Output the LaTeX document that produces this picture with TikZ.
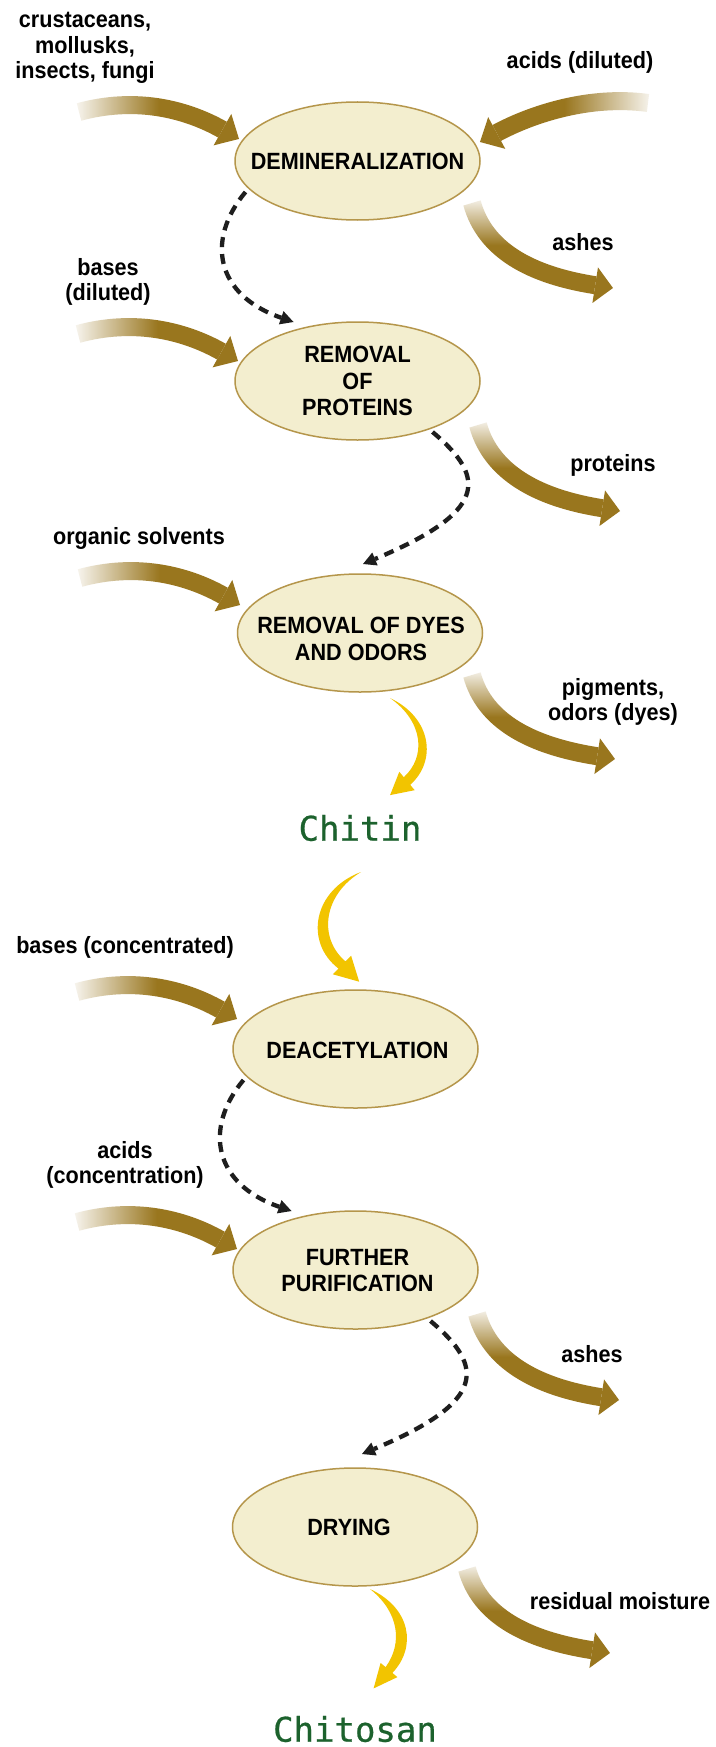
\documentclass[tikz,border=0pt]{standalone}
\usepackage{fontspec}
\setmainfont{Liberation Sans}[FakeStretch=0.92]
\newfontfamily\chfont{DejaVu Sans Mono}[FakeBold=0.6]
\usetikzlibrary{arrows.meta,calc,fadings,shapes.geometric}
\definecolor{brn}{RGB}{153,118,30}
\definecolor{ellfill}{RGB}{243,238,207}
\definecolor{elldraw}{RGB}{181,150,75}
\definecolor{yel}{RGB}{242,196,0}
\definecolor{grn}{RGB}{28,98,45}
\definecolor{dsh}{RGB}{30,30,30}
\tikzfading[name=fadeW, left color=transparent!100, right color=transparent!0, middle color=transparent!0]
\tikzfading[name=fadeE, left color=transparent!0, right color=transparent!100, middle color=transparent!0]
\tikzfading[name=fadeN, top color=transparent!100, bottom color=transparent!0, middle color=transparent!0]
\begin{document}
\begin{tikzpicture}[x=1pt,y=-1pt,
  stage/.style={ellipse, draw=elldraw, fill=ellfill, line width=1.5pt, minimum width=245pt, minimum height=118pt, inner sep=0pt},
  stagetext/.style={align=center, font=\fontsize{23.5}{26.5}\selectfont\bfseries, inner sep=0pt},
  lbl/.style={align=center, font=\fontsize{23.5}{25.5}\selectfont\bfseries, inner sep=0pt},
  prod/.style={font=\fontsize{34}{40}\chfont, text=grn, inner sep=0pt},
  inarrow/.style={draw=brn, line width=18pt, -{Triangle[length=19pt,width=36pt,line width=0pt]}, path fading=fadeW},
  backarrow/.style={draw=brn, line width=18pt, -{Triangle[length=19pt,width=36pt,line width=0pt]}, path fading=fadeE},
  outarrow/.style={draw=brn, line width=18pt, -{Triangle[length=18pt,width=36pt,line width=0pt]}, path fading=fadeN},
  flow/.style={draw=dsh, line width=4.3pt, dash pattern=on 10pt off 7pt, -{Triangle[length=13pt,width=14pt,line width=0pt]}},
  yarrow/.style={fill=yel, draw=none}]
\fill[white] (0,0) rectangle (715,1747);
\useasboundingbox (0,0) rectangle (715,1747);

% stages
\node[stage] (e1) at (357.5,161) {};
\node[stage] (e2) at (357.5,381) {};
\node[stage] (e3) at (360,633) {};
\node[stage] (e4) at (355.5,1049) {};
\node[stage] (e5) at (355.5,1270) {};
\node[stage] (e6) at (355,1527) {};
\node[stagetext] (e1t) at (357.5,161) {DEMINERALIZATION};
\node[stagetext] (e2t) at (357.5,381) {REMOVAL\\OF\\PROTEINS};
\node[stagetext] (e3t) at (361,639) {REMOVAL OF DYES\\AND ODORS};
\node[stagetext] (e4t) at (357.5,1050) {DEACETYLATION};
\node[stagetext] (e5t) at (357.5,1270.5) {FURTHER\\PURIFICATION};
\node[stagetext] (e6t) at (349,1527) {DRYING};

% labels
\node[lbl] (l1) at (85,48) {crustaceans,\\mollusks,\\insects, fungi};
\node[lbl] (l2) at (580,62) {acids (diluted)};
\node[lbl] (l3) at (583,242) {ashes};
\node[lbl] (l4) at (108,282) {bases\\(diluted)};
\node[lbl] (l5) at (613,465) {proteins};
\node[lbl] (l6) at (139,538) {organic solvents};
\node[lbl] (l7) at (613,702) {pigments,\\odors (dyes)};
\node[lbl] (l8) at (125,947) {bases (concentrated)};
\node[lbl] (l9) at (125,1165) {acids\\(concentration)};
\node[lbl] (l10) at (592,1354) {ashes};
\node[lbl] (l11) at (620,1601) {residual moisture};
\node[prod] (chitin) at (360,828) {Chitin};
\node[prod] (chitosan) at (355,1729) {Chitosan};

% input arrows
\coordinate (b1s) at (79,112);   \coordinate (b1t) at (239,139);
\coordinate (b2s) at (78,334);   \coordinate (b2t) at (238,361);
\coordinate (b3s) at (80,578);   \coordinate (b3t) at (240,605);
\coordinate (b4s) at (77,992);   \coordinate (b4t) at (237,1019);
\coordinate (b5s) at (77,1222);  \coordinate (b5t) at (237,1249);
\coordinate (b6s) at (648,103);  \coordinate (b6t) at (480,142);
\foreach \k in {1,...,5}{
  \draw[inarrow] (b\k s) .. controls +(55,-15) and +(-55,-31) .. (b\k t);
}
\draw[backarrow] (b6s) .. controls +(-58,-8) and +(52,-28) .. (b6t);

% output arrows
\coordinate (o1s) at (472,203);  \coordinate (o1t) at (613,288);
\coordinate (o2s) at (478,425);  \coordinate (o2t) at (620,511);
\coordinate (o3s) at (472,675);  \coordinate (o3t) at (615,759);
\coordinate (o4s) at (477,1314); \coordinate (o4t) at (619,1400);
\coordinate (o5s) at (467,1569); \coordinate (o5t) at (610,1653);
\foreach \k in {1,...,5}{
  \draw[outarrow] (o\k s) .. controls +(13,47) and +(-83,-13) .. (o\k t);
}

% dashed flow arrows
\draw[flow] ($(e1)+(-112,31)$) .. controls +(-40,48) and +(-78,-27) .. ($(e2)+(-64,-59)$);
\draw[flow] ($(e2)+(75,51)$) .. controls +(55,46) and +(124,-52) .. ($(e3)+(3,-69)$);
\draw[flow] ($(e4)+(-112,31)$) .. controls +(-40,48) and +(-78,-27) .. ($(e5)+(-64,-59)$);
\draw[flow] ($(e5)+(75,51)$) .. controls +(55,46) and +(124,-52) .. ($(e6)+(7,-73)$);

% yellow arrows
\fill[yarrow] (390,698) .. controls (432,718) and (437,761) .. (410.2,784.8) -- (414.7,790.2) -- (390.1,795.1) -- (399.3,771.8) -- (403.8,777.2) .. controls (426,757) and (424,722) .. (390,698) -- cycle;
\fill[yarrow] (361,872) .. controls (313,890) and (304,942) .. (338.5,968.6) -- (332.9,974.3) -- (359.2,981.7) -- (351.1,955.7) -- (345.5,961.4) .. controls (318,938) and (323,895) .. (361,872) -- cycle;
\fill[yarrow] (370,1589) .. controls (411,1608) and (417,1647) .. (392.4,1672.9) -- (397.4,1677.1) -- (373.6,1688.4) -- (380.6,1662.9) -- (385.6,1667.1) .. controls (403,1643) and (399,1612) .. (370,1589) -- cycle;
\end{tikzpicture}
\end{document}
